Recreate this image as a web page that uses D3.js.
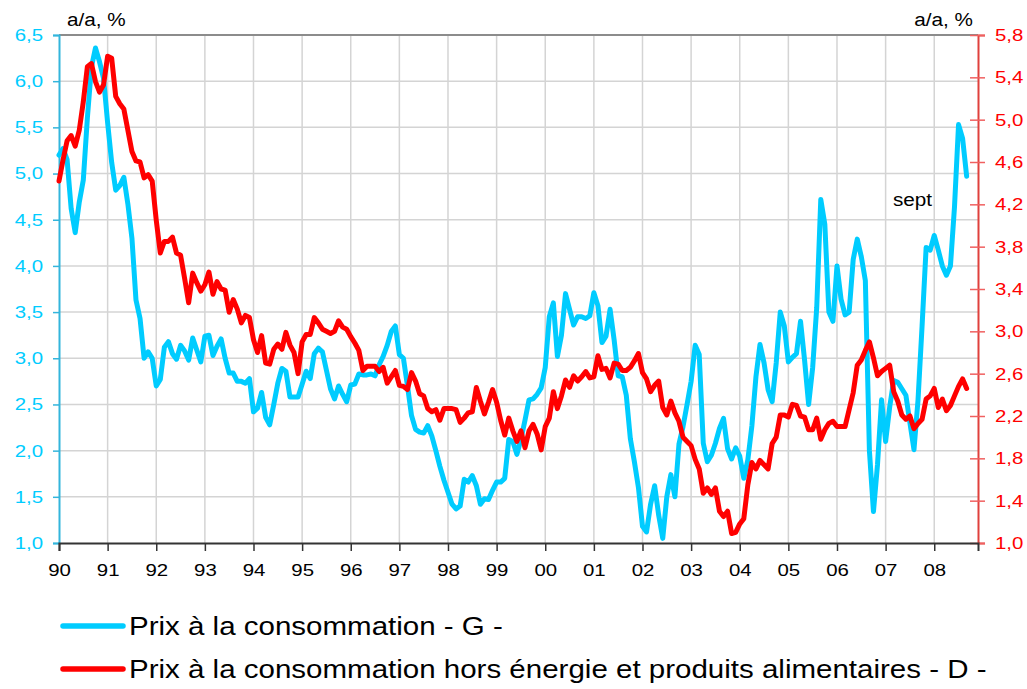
<!DOCTYPE html>
<html><head><meta charset="utf-8">
<script src="https://cdn.jsdelivr.net/npm/d3@7"></script>
<style>body{margin:0;background:#fff}svg{display:block}text{font-family:"Liberation Sans",Arial,sans-serif}</style>
</head><body>
<script>
// ---- data ----
const startYear = 1990;
const yearLabels = ["90","91","92","93","94","95","96","97","98","99","00","01","02","03","04","05","06","07","08"];
const leftTicks = [1.0,1.5,2.0,2.5,3.0,3.5,4.0,4.5,5.0,5.5,6.0,6.5];
const rightTicks = [1.0,1.4,1.8,2.2,2.6,3.0,3.4,3.8,4.2,4.6,5.0,5.4,5.8];
const unitLabel = "a/a, %";
const noteLabel = "sept";
const legendLabels = ["Prix à la consommation - G -","Prix à la consommation hors énergie et produits alimentaires - D -"];
// monthly, Jan 1990 .. Sep 2008
const seriesG = [
5.20,5.27,5.15,4.62,4.36,4.69,4.93,5.60,6.15,6.36,6.21,6.03,
5.55,5.12,4.82,4.87,4.96,4.67,4.30,3.63,3.43,3.00,3.07,3.00,
2.70,2.77,3.12,3.18,3.05,2.99,3.14,3.08,2.98,3.22,3.09,2.96,
3.24,3.25,3.03,3.13,3.21,3.00,2.84,2.84,2.75,2.75,2.73,2.78,
2.42,2.46,2.63,2.36,2.28,2.50,2.73,2.89,2.86,2.58,2.58,2.58,
2.72,2.86,2.78,3.05,3.11,3.07,2.87,2.67,2.56,2.70,2.61,2.53,
2.71,2.72,2.83,2.82,2.82,2.83,2.81,2.93,3.02,3.14,3.29,3.35,
3.04,3.00,2.70,2.38,2.23,2.20,2.19,2.27,2.16,2.00,1.83,1.68,
1.55,1.42,1.37,1.40,1.69,1.66,1.73,1.62,1.42,1.48,1.47,1.57,
1.66,1.66,1.70,2.12,2.10,1.96,2.12,2.33,2.55,2.56,2.61,2.68,
2.90,3.45,3.60,3.02,3.25,3.70,3.53,3.36,3.45,3.45,3.43,3.46,
3.71,3.57,3.17,3.24,3.53,3.20,2.81,2.80,2.60,2.13,1.88,1.60,
1.18,1.12,1.42,1.62,1.30,1.05,1.50,1.74,1.50,2.07,2.26,2.50,
2.75,3.14,3.04,2.08,1.88,1.95,2.08,2.24,2.35,2.02,1.91,2.03,
1.94,1.70,1.90,2.27,2.80,3.15,2.95,2.66,2.53,2.95,3.50,3.35,
2.96,3.01,3.05,3.40,2.98,2.50,2.90,3.55,4.72,4.45,3.50,3.40,
4.00,3.64,3.47,3.50,4.07,4.29,4.10,3.84,2.00,1.34,1.85,2.55,
2.10,2.47,2.76,2.74,2.67,2.60,2.30,2.01,2.55,3.35,4.20,4.17,
4.33,4.17,4.00,3.90,4.00,4.64,5.53,5.38,4.97];
const seriesD = [
4.42,4.62,4.80,4.85,4.75,4.90,5.17,5.50,5.53,5.36,5.26,5.33,
5.60,5.58,5.22,5.15,5.10,4.90,4.70,4.61,4.60,4.45,4.48,4.42,
4.05,3.74,3.85,3.85,3.89,3.74,3.72,3.50,3.27,3.55,3.46,3.38,
3.44,3.56,3.35,3.47,3.40,3.39,3.18,3.30,3.21,3.08,3.15,3.13,
2.92,2.80,2.96,2.70,2.69,2.83,2.88,2.83,2.99,2.87,2.80,2.60,
2.90,2.97,2.97,3.13,3.08,3.02,3.00,2.98,3.00,3.10,3.04,3.02,
2.95,2.89,2.82,2.63,2.67,2.67,2.67,2.62,2.66,2.51,2.57,2.63,
2.49,2.48,2.45,2.61,2.53,2.41,2.39,2.27,2.24,2.26,2.16,2.27,
2.27,2.27,2.26,2.14,2.18,2.23,2.24,2.47,2.34,2.22,2.33,2.45,
2.33,2.16,2.02,2.18,2.06,1.96,2.06,1.90,2.06,2.12,2.03,1.88,
2.10,2.18,2.43,2.27,2.39,2.54,2.47,2.58,2.53,2.57,2.62,2.56,
2.57,2.77,2.64,2.65,2.56,2.70,2.69,2.63,2.63,2.66,2.72,2.79,
2.61,2.55,2.43,2.49,2.53,2.28,2.21,2.34,2.23,2.15,2.00,1.96,
1.92,1.79,1.70,1.47,1.52,1.46,1.52,1.30,1.25,1.30,1.09,1.10,
1.18,1.23,1.55,1.76,1.70,1.78,1.74,1.70,1.94,2.00,2.21,2.21,
2.19,2.31,2.30,2.20,2.19,2.07,2.07,2.18,1.98,2.07,2.13,2.15,
2.10,2.10,2.10,2.26,2.42,2.68,2.73,2.82,2.90,2.75,2.58,2.62,
2.65,2.68,2.43,2.34,2.21,2.17,2.20,2.08,2.13,2.17,2.36,2.39,
2.46,2.28,2.36,2.25,2.30,2.39,2.48,2.55,2.46];

// ---- layout ----
const W = 1027, H = 689;
const L = 59, R = 978, T = 35, B = 543;
const colG = "#00ccff", colD = "#ff0000";
const K = 1.2; // horizontal text stretch

const svg = d3.select("body").append("svg").attr("width", W).attr("height", H);

const x = d3.scaleLinear().domain([startYear, startYear + 18.9]).range([L, R]);
const yL = d3.scaleLinear().domain([1, 6.5]).range([B, T]);
const yR = d3.scaleLinear().domain([1, 5.8]).range([B, T]);
const fmt = d => d.toFixed(1).replace(".", ",");
const years = yearLabels.map((d, i) => startYear + i);

function stretch(sel, k) {
  sel.each(function () {
    const l = this.getComputedTextLength();
    this.setAttribute("textLength", l * k);
    this.setAttribute("lengthAdjust", "spacingAndGlyphs");
  });
}

// grid
const grid = svg.append("g");
grid.selectAll("line.h").data(leftTicks.filter(v => v > 1 && v < 6.5)).join("line")
  .attr("x1", L).attr("x2", R).attr("y1", d => yL(d)).attr("y2", d => yL(d))
  .attr("stroke", "#d4d4d4").attr("stroke-width", 1.5);
grid.selectAll("line.v").data(years.slice(1)).join("line")
  .attr("x1", d => x(d)).attr("x2", d => x(d)).attr("y1", T).attr("y2", B)
  .attr("stroke", "#d4d4d4").attr("stroke-width", 1.5);
// top border
svg.append("line").attr("x1", L).attr("x2", R).attr("y1", T).attr("y2", T)
  .attr("stroke", "#8c8c8c").attr("stroke-width", 2);

// left axis
const gL = svg.append("g").attr("transform", `translate(${L},0)`)
  .call(d3.axisLeft(yL).tickValues(leftTicks).tickSize(6).tickPadding(10).tickFormat(fmt));
gL.select(".domain").attr("stroke", "#33b5dc").attr("stroke-width", 2);
gL.selectAll(".tick line").attr("stroke", "#33b5dc").attr("stroke-width", 1.5);
gL.selectAll(".tick text").attr("fill", colG).attr("font-size", 17).call(stretch, K);

// right axis
const gR = svg.append("g").attr("transform", `translate(${R},0)`)
  .call(d3.axisRight(yR).tickValues(rightTicks).tickSize(7).tickPadding(10).tickFormat(fmt));
gR.select(".domain").attr("stroke", "#e0403c").attr("stroke-width", 2);
gR.selectAll(".tick line").attr("x1", -8).attr("stroke", "#f06060").attr("stroke-width", 1.5);
gR.selectAll(".tick text").attr("fill", colD).attr("font-size", 17).call(stretch, K);

// bottom axis
const gB = svg.append("g").attr("transform", `translate(0,${B})`)
  .call(d3.axisBottom(x).tickValues(years).tickSize(8).tickFormat((d, i) => yearLabels[i]));
gB.select(".domain").attr("stroke", "#333").attr("stroke-width", 2);
gB.selectAll(".tick line").attr("stroke", "#333").attr("stroke-width", 1.5);
gB.selectAll(".tick text").attr("fill", "#000").attr("font-size", 17).attr("dy", null).attr("y", 21).attr("dominant-baseline", "hanging").call(stretch, K);

// lines
const lineG = d3.line().x((d, i) => x(startYear + i / 12)).y(d => yL(d));
const lineD = d3.line().x((d, i) => x(startYear + i / 12)).y(d => yR(d));
svg.append("path").datum(seriesG).attr("d", lineG).attr("fill", "none")
  .attr("stroke", colG).attr("stroke-width", 5).attr("stroke-linejoin", "round").attr("stroke-linecap", "round");
svg.append("path").datum(seriesD).attr("d", lineD).attr("fill", "none")
  .attr("stroke", colD).attr("stroke-width", 5).attr("stroke-linejoin", "round").attr("stroke-linecap", "round");

// unit labels
svg.append("text").attr("x", 67).attr("y", 26).attr("font-size", 18).attr("fill", "#000").text(unitLabel).call(stretch, 1.15);
svg.append("text").attr("x", 973).attr("y", 26).attr("text-anchor", "end").attr("font-size", 18).attr("fill", "#000").text(unitLabel).call(stretch, 1.15);
svg.append("text").attr("x", 893).attr("y", 206).attr("font-size", 18).attr("fill", "#000").text(noteLabel).call(stretch, 1.15);

// legend
const leg = svg.append("g");
[colG, colD].forEach((c, i) => {
  const yy = 626 + i * 43;
  leg.append("line").attr("x1", 63).attr("x2", 123).attr("y1", yy).attr("y2", yy)
    .attr("stroke", c).attr("stroke-width", 5.5).attr("stroke-linecap", "round");
  leg.append("text").attr("x", 129).attr("y", yy + 9).attr("font-size", 25).attr("fill", "#000")
    .text(legendLabels[i]).call(stretch, 1.18);
});
</script>
</body></html>
